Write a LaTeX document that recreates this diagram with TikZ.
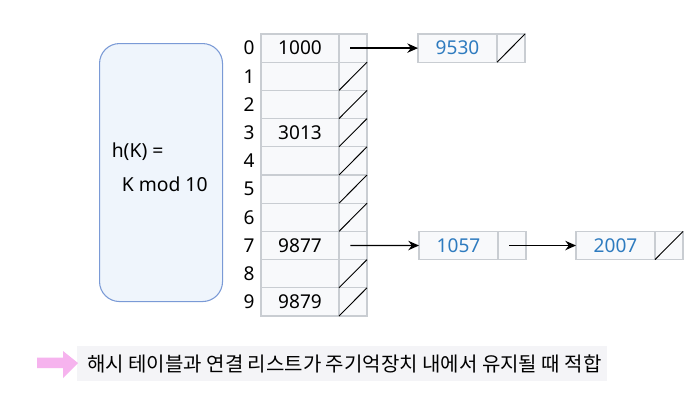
\documentclass[tikz,border=0pt]{standalone}
\usepackage{fontspec}
\setmainfont{Noto Sans}
\newfontfamily\kr{Noto Sans CJK KR}
\usetikzlibrary{arrows.meta}
\definecolor{cellgray}{HTML}{C9CDD2}
\definecolor{cellfill}{HTML}{F8F9FB}
\definecolor{numblue}{HTML}{2E7BBF}
\definecolor{boxline}{HTML}{7A9AD6}
\definecolor{boxfill}{HTML}{EFF5FC}
\definecolor{pinkarrow}{HTML}{F6B3EE}
\definecolor{notebg}{HTML}{F4F4F7}
\begin{document}
\begin{tikzpicture}[x=0.75pt,y=-0.75pt,
  keycell/.style={draw=cellgray, line width=0.8pt, fill=cellfill, minimum width=58.5pt, minimum height=21.15pt, inner sep=0pt, outer sep=0pt, anchor=north west, font=\fontsize{14.3pt}{16pt}\selectfont},
  ptrcell/.style={draw=cellgray, line width=0.8pt, fill=cellfill, minimum width=21pt, minimum height=21.15pt, inner sep=0pt, outer sep=0pt, anchor=north west},
  chainkey/.style={keycell, minimum width=59.25pt, text=numblue},
  idx/.style={font=\fontsize{14.3pt}{16pt}\selectfont, inner sep=0pt},
  nullline/.style={draw=black, line width=0.7pt},
  link/.style={draw=black, line width=1.1pt, -{Stealth[length=8pt,width=7pt]}}
]
\useasboundingbox (0,0) rectangle (691,401);
\fill[white] (0,0) rectangle (691,401);

% hash function box
\node[draw=boxline, line width=0.8pt, fill=boxfill, rounded corners=15pt,
      minimum width=92.25pt, minimum height=193.5pt, anchor=north west,
      inner sep=0pt] (hbox) at (99,43) {};
\node[align=left, inner sep=0pt, font=\fontsize{14.5pt}{17pt}\selectfont] (hfun) at ([xshift=-1pt,yshift=4pt]hbox.center)
      {h(K) =\\[8pt]\hspace*{7.5pt}K mod 10};

% hash table
\foreach \i/\v in {0/1000,1/,2/,3/3013,4/,5/,6/,7/9877,8/,9/9879}{
  \pgfmathsetmacro{\ry}{34+28.2*\i}
  \node[keycell] (k\i) at (261,\ry) {\v};
  \node[ptrcell] (p\i) at (339,\ry) {};
  \node[idx] (i\i) at (249,\ry+14.1) {\i};
}
\foreach \i in {1,2,3,4,5,6,8,9}{
  \draw[nullline] (p\i.south west) -- (p\i.north east);
}

% chain of slot 0
\node[chainkey] (c1) at (418,34) {9530};
\node[ptrcell] (c1p) at (497,34) {};
\draw[nullline] (c1p.south west) -- (c1p.north east);

% chain of slot 7
\node[chainkey] (c2) at (419,231.4) {1057};
\node[ptrcell] (c2p) at (498,231.4) {};
\node[chainkey] (c3) at (576,231.4) {2007};
\node[ptrcell] (c3p) at (655,231.4) {};
\draw[nullline] (c3p.south west) -- (c3p.north east);

\coordinate (s0) at ([xshift=-2pt]p0.center);
\coordinate (s7) at ([xshift=-2pt]p7.center);
\coordinate (s2) at ([xshift=-2pt]c2p.center);
\draw[link] (s0) -- (c1.west);
\draw[link] (s7) -- (c2.west);
\draw[link] (s2) -- (c3.west);

% note
\node[fill=notebg, minimum width=397.5pt, minimum height=26pt, anchor=north west, inner sep=0pt] (note) at (77,346) {};
\node[anchor=west, inner sep=0pt, font=\kr\fontsize{15pt}{18pt}\selectfont] (notetext) at (87,363.5)
  {해시 테이블과 연결 리스트가 주기억장치 내에서 유지될 때 적합};
\fill[pinkarrow] (37,357.7) -- (63,357.7) -- (63,351) -- (78,363) -- (63,378) -- (63,368) -- (37,368) -- cycle;
\end{tikzpicture}
\end{document}
